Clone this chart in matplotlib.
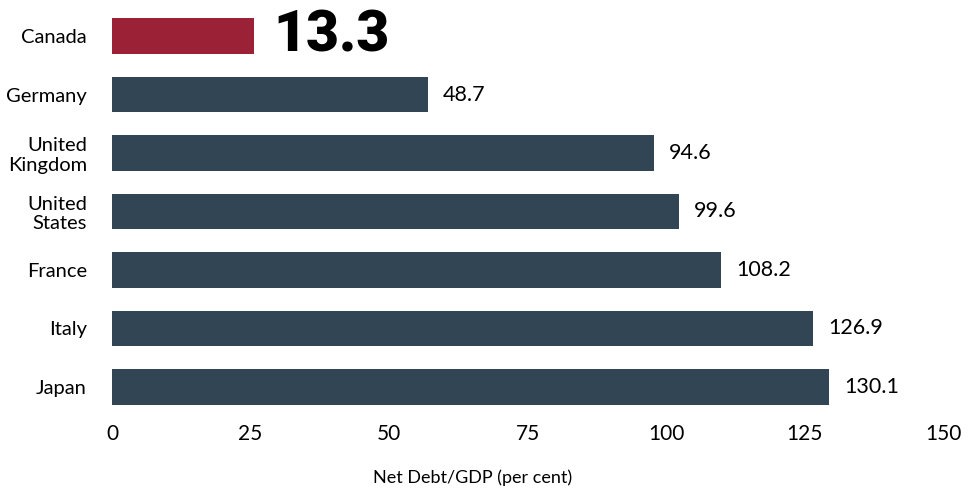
import matplotlib.pyplot as plt

countries = ["Canada", "Germany", "United\nKingdom", "United\nStates", "France", "Italy", "Japan"]
# bar lengths as drawn in the reference (read against the axis)
bar_lengths = [25.6, 57.0, 97.8, 102.3, 109.9, 126.5, 129.4]
# values printed next to the bars
value_labels = ["13.3", "48.7", "94.6", "99.6", "108.2", "126.9", "130.1"]
xticks = [0, 25, 50, 75, 100, 125, 150]

plt.rcParams['font.family'] = ['Lato', 'DejaVu Sans']

fig = plt.figure(figsize=(9.68, 4.9), dpi=100)
ax = fig.add_axes([0.1157, 0.151, 0.8585, 0.835])

colors = ['#9b2236'] + ['#324554'] * (len(countries) - 1)
y = list(range(len(countries)))
ax.barh(y, bar_lengths, height=0.61, color=colors)

for i, (v, lab) in enumerate(zip(bar_lengths, value_labels)):
    if i == 0:
        ax.annotate(lab, (v, i), xytext=(14, 0), textcoords='offset points',
                    va='center', ha='left', fontsize=41, fontweight='black',
                    family=['Roboto', 'DejaVu Sans'], color='black')
    else:
        ax.annotate(lab, (v, i), xytext=(11, 0), textcoords='offset points',
                    va='center', ha='left', fontsize=15.5, color='black')

ax.set_xlim(0, 150)
ax.set_ylim(len(countries) - 0.5, -0.5)
ax.set_xticks(xticks)
ax.set_xticklabels([str(t) for t in xticks], fontsize=15)
ax.set_yticks(y)
ax.set_yticklabels(countries, fontsize=14.5, linespacing=1.15)
ax.tick_params(axis='both', length=0)
ax.tick_params(axis='y', pad=18)
ax.tick_params(axis='x', pad=6)
for s in ax.spines.values():
    s.set_visible(False)

fig.text(473 / 968, 1 - 478 / 490, "Net Debt/GDP (per cent)", fontsize=13,
         ha='center', va='center')

fig.savefig("out.png", dpi=100)
